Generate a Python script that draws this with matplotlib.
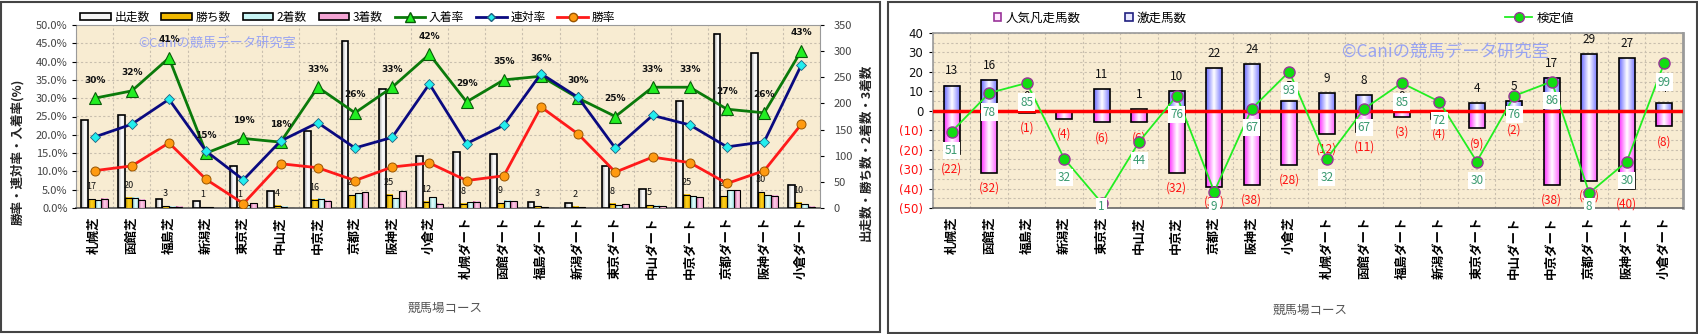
import numpy as np
import matplotlib
matplotlib.use("Agg")
import matplotlib.pyplot as plt
from matplotlib.colors import LinearSegmentedColormap
from matplotlib.patches import Patch, Rectangle
from matplotlib.lines import Line2D
from matplotlib.ticker import FixedLocator, FuncFormatter

plt.rcParams['font.family'] = ['Noto Sans CJK JP', 'DejaVu Sans']

# コース
courses = ['札幌芝', '函館芝', '福島芝', '新潟芝', '東京芝', '中山芝', '中京芝', '京都芝', '阪神芝', '小倉芝',
           '札幌ダート', '函館ダート', '福島ダート', '新潟ダート', '東京ダート', '中山ダート', '中京ダート',
           '京都ダート', '阪神ダート', '小倉ダート']

# 左: 出走数・着数
runners = [168, 177, 17, 13, 80, 33, 148, 320, 228, 99, 108, 104, 11, 10, 81, 36, 204, 333, 296, 44]
wins = [17, 20, 3, 1, 1, 4, 16, 24, 25, 12, 8, 9, 3, 2, 8, 5, 25, 22, 30, 10]
seconds = [15, 20, 2, 1, 5, 2, 18, 28, 19, 21, 11, 14, 1, 1, 5, 4, 22, 34, 24, 7]
thirds = [18, 16, 2, 0, 9, 0, 14, 30, 32, 8, 12, 13, 0, 0, 7, 3, 21, 34, 23, 2]

# 左: 率 (%)
place_rate = [30, 32, 41, 15, 19, 18, 33, 26, 33, 42, 29, 35, 36, 30, 25, 33, 33, 27, 26, 43]
rentai_rate = [19.4, 22.9, 29.7, 15.5, 7.7, 18.3, 23.3, 16.4, 19.3, 33.9,
               17.6, 22.6, 36.7, 30.2, 16.3, 25.3, 22.7, 16.7, 18.1, 39.1]
win_rate = [10.2, 11.5, 17.8, 7.8, 1.2, 12.1, 11.0, 7.5, 11.2, 12.3,
            7.5, 8.8, 27.6, 20.2, 9.8, 13.9, 12.4, 6.7, 10.2, 22.9]

# 右: 激走 / 凡走 / 検定値
gekisou = [13, 16, 0, None, 11, 1, 10, 22, 24, 5, 9, 8, 0, None, 4, 5, 17, 29, 27, 4]
bonsou = [22, 32, 1, 4, 6, 6, 32, 39, 38, 28, 12, 11, 3, 4, 9, 2, 38, 36, 40, 8]
kentei = [51, 78, 85, 32, 1, 44, 76, 9, 67, 93, 32, 67, 85, 72, 30, 76, 86, 8, 30, 99]

W, H = 1699, 334
BG = '#f8ecd2'
GRID = '#c9bfae'


def grad_bars(ax, x, heights, width, cols, edge='black', lw=1.0, bottom=0, z=3):
    """グラデーション付きの棒"""
    cmap = LinearSegmentedColormap.from_list('g', cols)
    grad = np.linspace(0, 1, 64).reshape(1, -1)
    bars = ax.bar(x, heights, width, bottom=bottom, facecolor='none',
                  edgecolor=edge, linewidth=lw, zorder=z + 0.1)
    for b in bars:
        x0, y0 = b.get_xy()
        bw, bh = b.get_width(), b.get_height()
        if bh == 0:
            continue
        ax.imshow(grad, cmap=cmap, extent=[x0, x0 + bw, min(y0, y0 + bh), max(y0, y0 + bh)],
                  aspect='auto', zorder=z, interpolation='bilinear')
    return bars


fig = plt.figure(figsize=(W / 100, H / 100), dpi=100)
fig.patch.set_facecolor('white')

# パネル枠
fig.add_artist(Rectangle((1 / W, 2 / H), 879 / W, 330 / H, transform=fig.transFigure,
                         fill=False, edgecolor='#444444', lw=1.5))
fig.add_artist(Rectangle((888 / W, 1 / H), 809 / W, 331 / H, transform=fig.transFigure,
                         fill=False, edgecolor='#444444', lw=1.5))

x = np.arange(len(courses))

# ---------------- 左パネル ----------------
ax_cnt = fig.add_axes([76 / W, 1 - 208 / H, (820 - 76) / W, (208 - 25) / H])
ax_cnt.set_facecolor(BG)
bw = 0.18
grad_bars(ax_cnt, x - 0.27, runners, bw, ['#9a9a9a', '#ffffff', '#e8e8e8'], lw=1.2)
grad_bars(ax_cnt, x - 0.09, wins, bw, ['#b08800', '#ffd21a', '#f0b800'], lw=0.8)
grad_bars(ax_cnt, x + 0.09, seconds, bw, ['#70c0c0', '#e6ffff', '#a8e8e8'], lw=0.8)
grad_bars(ax_cnt, x + 0.27, thirds, bw, ['#c05090', '#ffd0ea', '#f09ccc'], lw=0.8)
for xi, w in zip(x, wins):
    ax_cnt.annotate(str(w), (xi - 0.09, w), xytext=(0, 9), textcoords='offset points',
                    ha='center', va='center', fontsize=6.5, color='#111111', zorder=6)

ax_cnt.set_xlim(-0.5, len(courses) - 0.5)
ax_cnt.set_ylim(0, 350)

ax_pct = ax_cnt.twinx()
ax_pct.yaxis.tick_left()
ax_cnt.yaxis.tick_right()

ax_cnt.yaxis.set_major_locator(FixedLocator(np.arange(0, 351, 50)))
ax_cnt.yaxis.set_minor_locator(FixedLocator(np.arange(0, 351, 35)))
ax_cnt.tick_params(axis='y', which='major', labelsize=8, labelcolor='#444444', length=3, pad=7)
ax_cnt.tick_params(axis='y', which='minor', length=0)
ax_cnt.grid(True, which='minor', axis='y', color=GRID, ls=(0, (2, 2)), lw=0.8, zorder=0)
ax_cnt.set_xticks(x)
ax_cnt.set_xticklabels(courses, rotation=90, fontsize=9, fontweight='bold')
ax_cnt.xaxis.set_minor_locator(FixedLocator(np.arange(-0.5, len(courses), 1)))
ax_cnt.grid(True, which='minor', axis='x', color=GRID, ls=(0, (2, 2)), lw=0.8, zorder=0)
ax_cnt.tick_params(axis='x', which='both', length=0, pad=6)
ax_cnt.set_axisbelow(True)
for s in ax_cnt.spines.values():
    s.set_color('#9a9a9a')
ax_cnt.spines['bottom'].set_color('#555555')
ax_cnt.spines['bottom'].set_linewidth(1.2)

ax_pct.set_ylim(0, 50)
ax_pct.yaxis.set_major_locator(FixedLocator(np.arange(0, 51, 5)))
ax_pct.yaxis.set_major_formatter(FuncFormatter(lambda v, p: f"{v:.1f}%"))
ax_pct.tick_params(axis='y', labelsize=8, labelcolor='#444444', length=3, pad=3)
for s in ax_pct.spines.values():
    s.set_visible(False)

ax_pct.plot(x, place_rate, color='#0a7a0a', lw=2, marker='^', ms=8,
            mfc='#22ee22', mec='#0a5a0a', mew=0.8, zorder=5)
ax_pct.plot(x, rentai_rate, color='#0a0a80', lw=2, marker='D', ms=5,
            mfc='#22eeee', mec='#206080', mew=0.6, zorder=5)
ax_pct.plot(x, win_rate, color='#ff1a1a', lw=2, marker='o', ms=6.5,
            mfc='#ff9a10', mec='#995500', mew=0.7, zorder=5)
for xi, v in zip(x, place_rate):
    ax_pct.annotate(f"{v:.0f}%", (xi, v), xytext=(0, 13), textcoords='offset points',
                    ha='center', va='center', fontsize=6.5, fontweight='bold',
                    family=['DejaVu Sans'], color='#111111', zorder=6)

ax_pct.text(0.083, 0.90, '©Caniの競馬データ研究室', transform=ax_pct.transAxes,
            fontsize=9.5, color='#8f9cf5', alpha=0.9, va='center', zorder=1)

fig.text(18 / W, 1 - 152 / H, '勝率・連対率・入着率(%)', rotation=90, ha='center', va='center',
         fontsize=9, fontweight='bold', color='#222222')
fig.text(866 / W, 1 - 152 / H, '出走数・勝ち数・2着数・3着数', rotation=90, ha='center', va='center',
         fontsize=9, fontweight='bold', color='#222222')
fig.text(445 / W, 1 - 308 / H, '競馬場コース', ha='center', va='center', fontsize=9, color='#555555')

leg_handles = [
    Patch(facecolor='#f4f4f4', edgecolor='black', lw=1.2),
    Patch(facecolor='#f0b800', edgecolor='black', lw=1.2),
    Patch(facecolor='#c8f4f4', edgecolor='black', lw=1.2),
    Patch(facecolor='#f4a4d4', edgecolor='black', lw=1.2),
    Line2D([], [], color='#0a7a0a', lw=2, marker='^', ms=7, mfc='#22ee22', mec='#0a5a0a'),
    Line2D([], [], color='#0a0a80', lw=2, marker='D', ms=4.5, mfc='#22eeee', mec='#206080'),
    Line2D([], [], color='#ff1a1a', lw=2, marker='o', ms=6, mfc='#ff9a10', mec='#995500'),
]
leg_labels = ['出走数', '勝ち数', '2着数', '3着数', '入着率', '連対率', '勝率']
fig.legend(leg_handles, leg_labels, loc='center left', bbox_to_anchor=(80 / W, 1 - 17 / H),
           ncol=7, frameon=False, fontsize=8.5, handlelength=2.6, handleheight=0.55,
           handletextpad=0.3, columnspacing=1.0, borderpad=0, borderaxespad=0)

# ---------------- 右パネル ----------------
ax_r = fig.add_axes([933 / W, 1 - 208 / H, (1683 - 933) / W, (208 - 33) / H])
ax_r.set_facecolor(BG)
pos_vals = [np.nan if v is None else v for v in gekisou]
neg_vals = [-v for v in bonsou]
grad_bars(ax_r, x, neg_vals, 0.42, ['#ff30ff', '#ffffff', '#ff60ff'], lw=1.2)
grad_bars(ax_r, x, np.nan_to_num(pos_vals), 0.42, ['#6a6aff', '#ffffff', '#7a7aff'], lw=1.2)
ax_r.axhline(0, color='#ff0000', lw=2.5, zorder=4)

for xi, v in zip(x, gekisou):
    if v is None:
        continue
    ax_r.annotate(str(v), (xi, v), xytext=(0, 10.5), textcoords='offset points',
                  ha='center', va='center', fontsize=8.5, color='#111111', zorder=6)
for xi, v in zip(x, bonsou):
    ax_r.annotate(f"({v})", (xi, -v), xytext=(0, -11), textcoords='offset points',
                  ha='center', va='center', fontsize=8.5, color='#ff1010', zorder=6)

ax_r.set_xlim(-0.5, len(courses) - 0.5)
ax_r.set_ylim(-50, 40)
ticks_r = np.arange(-50, 41, 10)
ax_r.yaxis.set_major_locator(FixedLocator(ticks_r))
ax_r.yaxis.set_minor_locator(FixedLocator(np.arange(-45, 40, 10)))
ax_r.yaxis.set_major_formatter(FuncFormatter(lambda v, p: f"({abs(int(v))})" if v < 0 else f"{int(v)}"))
ax_r.tick_params(axis='y', which='major', labelsize=8.5, length=3, pad=4)
ax_r.tick_params(axis='y', which='minor', length=0)
for lbl, t in zip(ax_r.get_yticklabels(), ticks_r):
    lbl.set_color('#ff1010' if t < 0 else '#111111')
    lbl.set_family(['DejaVu Sans'])
ax_r.grid(True, which='both', axis='y', color=GRID, ls=(0, (2, 2)), lw=0.8, zorder=0)
ax_r.set_xticks(x)
ax_r.set_xticklabels(courses, rotation=90, fontsize=9, fontweight='bold')
ax_r.xaxis.set_minor_locator(FixedLocator(np.arange(-0.5, len(courses), 1)))
ax_r.grid(True, which='minor', axis='x', color=GRID, ls=(0, (2, 2)), lw=0.8, zorder=0)
ax_r.tick_params(axis='x', which='both', length=0, pad=6)
ax_r.set_axisbelow(True)
for s in ax_r.spines.values():
    s.set_color('#9a9a9a')
    s.set_linewidth(1.2)
ax_r.spines['right'].set_linewidth(2)
ax_r.spines['bottom'].set_color('#666666')

ax_r.text(0.545, 0.89, '©Caniの競馬データ研究室', transform=ax_r.transAxes,
          fontsize=12.5, color='#8f9cf5', alpha=0.9, va='center', zorder=1)

ax_k = ax_r.twinx()
ax_k.set_ylim(-2.5, 120)
ax_k.axis('off')
ax_k.plot(x, kentei, color='#22ee22', lw=1.3, marker='o', ms=8,
          mfc='#11dd11', mec='#993399', mew=1.0, zorder=5, clip_on=True)
for xi, v in zip(x, kentei):
    ly = max(v - 13.3, -1.2)
    ax_k.text(xi, ly, str(v), ha='center', va='center', fontsize=8.5, color='#3a9a70',
              bbox=dict(facecolor='white', edgecolor='none', pad=1.5), zorder=6)

fig.text(1310 / W, 1 - 310 / H, '競馬場コース', ha='center', va='center', fontsize=9, color='#555555')

leg_r1 = [Patch(facecolor='#ffe8ff', edgecolor='#993399', lw=1.2),
          Patch(facecolor='#e8e8ff', edgecolor='#202080', lw=1.2)]
fig.legend(leg_r1, ['人気凡走馬数', '激走馬数'], loc='center left', bbox_to_anchor=(994 / W, 1 - 18 / H),
           ncol=2, frameon=False, fontsize=9, handlelength=0.6, handleheight=0.6,
           handletextpad=0.3, columnspacing=3.6, borderpad=0, borderaxespad=0)
leg_r2 = [Line2D([], [], color='#22ee22', lw=1.3, marker='o', ms=7, mfc='#11dd11', mec='#993399')]
fig.legend(leg_r2, ['検定値'], loc='center left', bbox_to_anchor=(1505 / W, 1 - 18 / H),
           frameon=False, fontsize=9, handlelength=2.2, handletextpad=0.3, borderpad=0, borderaxespad=0)

fig.savefig('out.png', dpi=100)
